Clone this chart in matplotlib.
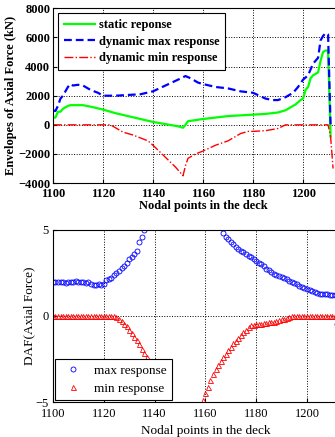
import numpy as np
import matplotlib
matplotlib.use("Agg")
import matplotlib.pyplot as plt

plt.rcParams['font.family'] = ['Liberation Serif', 'DejaVu Serif']
plt.rcParams['font.size'] = 9

# --- envelopes of axial force (kN) ---
static_x = [1100, 1101, 1102, 1103, 1104, 1105, 1106, 1107, 1108, 1110, 1112, 1115, 1120,
            1125, 1130, 1135, 1140, 1145, 1150, 1152, 1153, 1154, 1156, 1160, 1170, 1180,
            1185, 1190, 1193, 1195, 1197, 1199, 1200, 1201, 1202, 1203, 1204, 1205, 1206,
            1207, 1208, 1209, 1210, 1211]
static_y = [500, 500, 900, 900, 1100, 1200, 1300, 1350, 1350, 1350, 1350, 1250, 1050,
            800, 600, 400, 200, 50, -100, -200, 0, 250, 300, 400, 600, 700,
            750, 850, 1000, 1200, 1400, 1700, 1800, 2400, 2600, 3200, 3400, 3500, 3600,
            4400, 5000, 5100, 5100, -800]

dmax_x = [1100, 1101, 1102, 1103, 1104, 1105, 1106, 1107, 1108, 1110, 1112, 1115, 1118,
          1120, 1125, 1130, 1135, 1140, 1145, 1150, 1153, 1155, 1158, 1160, 1165, 1170,
          1175, 1180, 1185, 1188, 1190, 1193, 1196, 1198, 1200, 1202, 1204, 1206, 1207,
          1208, 1209, 1210, 1211]
dmax_y = [1000, 950, 1300, 1800, 2000, 2300, 2600, 2800, 2700, 2750, 2700, 2400, 2200,
          2000, 2000, 2050, 2100, 2300, 2700, 3100, 3350, 3200, 2900, 2800, 2600, 2500,
          2300, 2200, 1800, 1700, 1700, 1900, 2200, 2600, 3100, 3400, 4200, 4600, 5800,
          6100, 6300, 6200, 0]

dmin_x = [1100, 1123, 1125, 1128, 1132, 1135, 1138, 1140, 1143, 1146, 1149, 1151, 1152,
          1153, 1154, 1157, 1160, 1165, 1170, 1175, 1178, 1180, 1185, 1190, 1193, 1210,
          1211, 1212]
dmin_y = [0, 0, -200, -500, -700, -900, -1100, -1400, -1900, -2400, -2900, -3300, -3500,
          -2800, -2300, -2000, -1800, -1400, -1100, -600, -450, -450, -400, -250, 0, 0,
          -800, -3000]

# --- DAF (axial force) ---
max_x1 = list(range(1100, 1137))
max_y1 = [2.0, 2.0, 1.95, 1.95, 1.95, 1.9, 1.95, 2.0, 2.0, 2.05, 2.0, 2.0, 1.95, 1.9,
          1.95, 1.85, 1.8, 1.8, 1.85, 1.8, 1.85, 2.1, 2.15, 2.2, 2.4, 2.5, 2.6, 2.8, 2.9,
          3.1, 3.3, 3.4, 3.6, 3.8, 4.3, 4.6, 5.0]
max_x2 = list(range(1167, 1213))
max_y2 = [4.8, 4.6, 4.45, 4.3, 4.15, 4.0, 3.9, 3.8, 3.7, 3.6, 3.5, 3.4, 3.3, 3.2, 3.1,
          3.0, 2.9, 2.75, 2.65, 2.55, 2.45, 2.35, 2.3, 2.25, 2.2, 2.15, 2.05, 1.95, 1.9,
          1.85, 1.75, 1.7, 1.6, 1.55, 1.5, 1.45, 1.4, 1.35, 1.3, 1.3, 1.25, 1.25, 1.22,
          1.22, 1.22, -0.46]

min_x1 = list(range(1100, 1143))
min_y1 = [0] * 25 + [-0.05, -0.15, -0.3, -0.45, -0.6, -0.8, -1.0, -1.2, -1.4, -1.65,
                     -1.9, -2.15, -2.4, -2.6, -2.9, -3.3, -3.8, -4.4]
min_x2 = list(range(1159, 1213))
min_y2 = [-4.9, -4.5, -4.1, -3.7, -3.4, -3.1, -2.85, -2.6, -2.4, -2.2, -2.0, -1.8, -1.6,
          -1.45, -1.3, -1.1, -0.95, -0.8, -0.65, -0.55, -0.5, -0.48, -0.45, -0.45, -0.42,
          -0.4, -0.38, -0.36, -0.33, -0.3, -0.25, -0.2, -0.15, -0.1, -0.05] + [0] * 18 + [3.85]

x_ticks = [1100, 1120, 1140, 1160, 1180, 1200]

fig = plt.figure(figsize=(3.35, 4.37), dpi=100)
ax1 = fig.add_axes([0.158, 0.581, 0.896, 0.400])
ax2 = fig.add_axes([0.158, 0.080, 0.910, 0.394])

ax1.plot(static_x, static_y, color='#00ff00', lw=1.6, label='static reponse')
ax1.plot(dmax_x, dmax_y, color='#0000ff', lw=1.6, ls=(0, (3.5, 1.8)), label='dynamic max response')
ax1.plot(dmin_x, dmin_y, color='#ff0000', lw=1.0, ls='-.', label='dynamic min response')
ax1.set_xlim(1100, 1220)
ax1.set_ylim(-4000, 8000)
ax1.set_xticks(x_ticks)
ax1.set_yticks(range(-4000, 8001, 2000))
ax1.grid(True, color='black', ls=':', lw=0.7)
ax1.set_xlabel('Nodal points in the deck', fontweight='bold', labelpad=0)
ax1.set_ylabel('Envelopes of Axial Force (kN)', fontweight='bold', labelpad=1)
for t in ax1.get_xticklabels() + ax1.get_yticklabels():
    t.set_fontweight('bold')
ax1.tick_params(direction='in', length=3, pad=2)
ax1.tick_params(axis='x', pad=3.5)
leg1 = ax1.legend(loc='upper left', fancybox=False, edgecolor='black', framealpha=1,
                  handlelength=2.5, borderaxespad=0.4, labelspacing=0.38, handletextpad=0.3,
                  borderpad=0.45)
leg1.get_frame().set_linewidth(0.8)
for t in leg1.get_texts():
    t.set_fontweight('bold')

ax2.plot(max_x1, max_y1, 'o', mfc='none', mec='#0000ff', ms=3.6, mew=0.6, label='max response')
ax2.plot(max_x2, max_y2, 'o', mfc='none', mec='#0000ff', ms=3.6, mew=0.6)
ax2.plot(min_x1, min_y1, '^', mfc='none', mec='#ff0000', ms=3.6, mew=0.6, label='min response')
ax2.plot(min_x2, min_y2, '^', mfc='none', mec='#ff0000', ms=3.6, mew=0.6)
ax2.set_xlim(1100, 1220)
ax2.set_ylim(-5, 5)
ax2.set_xticks(x_ticks)
ax2.set_yticks([-5, 0, 5])
ax2.grid(True, color='black', ls=':', lw=0.7)
ax2.set_xlabel('Nodal points in the deck', fontsize=9.5, labelpad=4)
ax2.set_ylabel('DAF(Axial Force)', fontsize=9.5, labelpad=0)
ax2.tick_params(direction='in', length=3, pad=3)
ax2.tick_params(axis='x', pad=4)
leg2 = ax2.legend(loc='lower left', fancybox=False, edgecolor='black', framealpha=1,
                  numpoints=1, handlelength=2.0, borderaxespad=0.15, labelspacing=0.45,
                  handletextpad=0.6, borderpad=0.4, fontsize=9.5)
leg2.get_frame().set_linewidth(0.8)

fig.savefig('out.png', dpi=100)
